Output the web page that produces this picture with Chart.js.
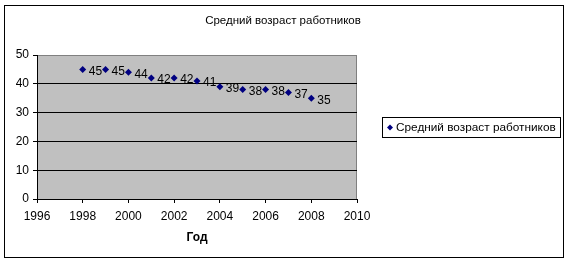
<!DOCTYPE html>
<html>
<head>
<meta charset="utf-8">
<script src="https://cdn.jsdelivr.net/npm/chart.js@4/dist/chart.umd.min.js"></script>
<style>
  html, body { margin: 0; background: #fff; }
</style>
</head>
<body>
<canvas id="myChart" width="567" height="264"></canvas>
<script>
const chartTitle = "Средний возраст работников";
const seriesName = "Средний возраст работников";
const xTitle = "Год";
const years = [1998, 1999, 2000, 2001, 2002, 2003, 2004, 2005, 2006, 2007, 2008];
const ages = [45, 45, 44, 42, 42, 41, 39, 38, 38, 37, 35];
const xRange = [1996, 2010, 2];
const yRange = [0, 50, 10];

const fontName = "'Liberation Sans', Arial, sans-serif";
const markerColor = "#000080";

const points = years.map((y, i) => ({ x: y, y: ages[i] }));

function diamond(ctx, x, y, r) {
    ctx.beginPath();
    ctx.moveTo(x, y - r);
    ctx.lineTo(x + r, y);
    ctx.lineTo(x, y + r);
    ctx.lineTo(x - r, y);
    ctx.closePath();
    ctx.fill();
}

const excelLook = {
    id: "excelLook",
    beforeDraw(chart) {
        const ctx = chart.ctx;
        const a = chart.chartArea;
        ctx.save();
        ctx.fillStyle = "#fff";
        ctx.fillRect(0, 0, chart.width, chart.height);
        // outer frame
        ctx.strokeStyle = "#000";
        ctx.lineWidth = 1;
        ctx.strokeRect(4.5, 5.5, 559, 252);
        // plot area
        ctx.fillStyle = "#c0c0c0";
        ctx.fillRect(a.left, a.top, a.right - a.left, a.bottom - a.top);
        ctx.strokeStyle = "#808080";
        ctx.strokeRect(a.left + 0.5, a.top + 0.5, a.right - a.left - 1, a.bottom - a.top);
        ctx.restore();
    },
    afterDraw(chart) {
        const ctx = chart.ctx;
        ctx.save();
        // title
        ctx.fillStyle = "#000";
        ctx.font = "11.5px " + fontName;
        ctx.textAlign = "center";
        ctx.textBaseline = "middle";
        ctx.fillText(chartTitle, 283, 21);

        // data labels
        const meta = chart.getDatasetMeta(0);
        ctx.font = "12px " + fontName;
        ctx.textAlign = "left";
        meta.data.forEach((pt, i) => {
            ctx.fillText(String(ages[i]), pt.x + 6, pt.y + 2);
        });

        // legend
        ctx.fillStyle = "#fff";
        ctx.fillRect(382, 117, 178, 20);
        ctx.strokeStyle = "#000";
        ctx.strokeRect(382.5, 117.5, 178, 20);
        ctx.fillStyle = markerColor;
        diamond(ctx, 390, 127.5, 3);
        ctx.fillStyle = "#000";
        ctx.font = "11.8px " + fontName;
        ctx.fillText(seriesName, 396, 128);
        ctx.restore();
    }
};

new Chart(document.getElementById("myChart").getContext("2d"), {
    type: "scatter",
    data: {
        datasets: [{
            label: seriesName,
            data: points,
            pointStyle: "rectRot",
            pointRadius: 3.5,
            pointHoverRadius: 3.5,
            backgroundColor: markerColor,
            borderColor: markerColor,
            borderWidth: 0
        }]
    },
    options: {
        responsive: false,
        animation: false,
        events: [],
        layout: { padding: { top: 55, right: 210, bottom: 0, left: 0 } },
        plugins: {
            legend: { display: false },
            title: { display: false },
            tooltip: { enabled: false }
        },
        scales: {
            x: {
                type: "linear",
                min: xRange[0],
                max: xRange[1],
                afterFit: s => { s.height = 65; },
                ticks: {
                    stepSize: xRange[2],
                    color: "#000",
                    padding: 6,
                    maxRotation: 0,
                    font: { family: fontName, size: 12 },
                    callback: v => String(v)
                },
                grid: { drawOnChartArea: false, tickLength: 4, tickColor: "#000" },
                border: { color: "#000", width: 1 },
                title: {
                    display: true,
                    text: xTitle,
                    color: "#000",
                    font: { family: fontName, size: 12, weight: "bold" },
                    padding: { top: 0, bottom: 19 }
                }
            },
            y: {
                min: yRange[0],
                max: yRange[1],
                afterFit: s => { s.width = 37; },
                ticks: {
                    stepSize: yRange[2],
                    color: "#000",
                    padding: 4,
                    font: { family: fontName, size: 12 }
                },
                grid: {
                    color: c => (c.tick && c.tick.value === yRange[1]) ? "rgba(0,0,0,0)" : "#000",
                    tickLength: 4,
                    tickColor: "#000"
                },
                border: { color: "#000", width: 1 }
            }
        }
    },
    plugins: [excelLook]
});
</script>
</body>
</html>
